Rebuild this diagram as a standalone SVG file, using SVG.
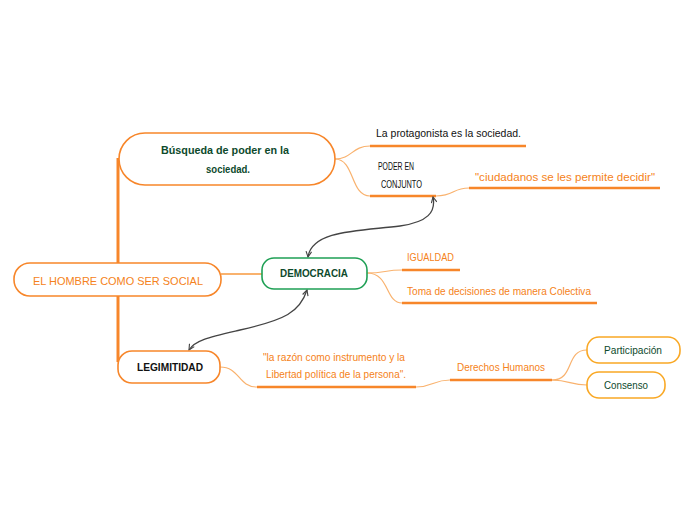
<svg xmlns="http://www.w3.org/2000/svg" width="696" height="520" viewBox="0 0 696 520">
<defs>
<marker id="ah" viewBox="0 0 10 10" refX="9" refY="5" markerWidth="7" markerHeight="7" orient="auto-start-reverse" markerUnits="userSpaceOnUse">
<path d="M1,1 L9,5 L1,9" fill="none" stroke="#444" stroke-width="1.6"/>
</marker>
</defs>
<style>
.t{font-family:"Liberation Sans","DejaVu Sans",sans-serif;font-size:11px}
.og{fill:#f58220}
.dg{fill:#0d4a2c}
.bk{fill:#111}
.thin{fill:none;stroke:#f9b26e;stroke-width:1.2}
.ul{fill:none;stroke:#f7862a;stroke-width:2.5}
.nodeO{fill:#fff;stroke:#f7862a;stroke-width:1.6}
.nodeA{fill:#fff;stroke:#f9a825;stroke-width:1.6}
.nodeG{fill:#fff;stroke:#1fa055;stroke-width:1.6}
.arr{fill:none;stroke:#444;stroke-width:1.3;marker-start:url(#ah);marker-end:url(#ah)}
</style>
<rect width="696" height="520" fill="#fff"/>
<g id="connectors">
<path d="M118,158 L118,362" fill="none" stroke="#f7862a" stroke-width="3"/>
<path d="M221,274 L262,274" fill="none" stroke="#f9b26e" stroke-width="2"/>
<path class="thin" d="M335,159 C352,159 352,146 370,146"/>
<path class="thin" d="M335,159 C355,159 350,196 370,196"/>
<path class="thin" d="M436,196 C455,196 452,188 469,188"/>
<path class="thin" d="M367,273 C385,273 385,270 402,270"/>
<path class="thin" d="M367,273 C390,273 385,303 402,303"/>
<path class="thin" d="M220,367 C240,367 238,387 257,387"/>
<path class="thin" d="M416,387 C433,387 433,380 450,380"/>
<path class="thin" d="M552,380 C575,380 565,350 587,350"/>
<path class="thin" d="M552,380 C570,380 570,385 587,385"/>
<path class="ul" d="M370,146 L526,146"/>
<path class="ul" d="M370,196 L436,196"/>
<path class="ul" d="M469,188 L660,188"/>
<path class="ul" d="M402,270 L460,270"/>
<path class="ul" d="M402,303 L597,303"/>
<path class="ul" d="M257,387 L416,387"/>
<path class="ul" d="M450,380 L552,380"/>
<path class="arr" d="M433,197 C436,212 428,222 400,226 C360,231 312,230 308,257"/>
<path class="arr" d="M307,290 C300,312 285,320 240,330 C210,337 195,340 189,350"/>
</g>
<g id="root">
<rect class="nodeO" x="14" y="263" width="207" height="33" rx="16"/>
<text class="t og" x="118" y="285" text-anchor="middle" font-size="13" textLength="170" lengthAdjust="spacingAndGlyphs">EL HOMBRE COMO SER SOCIAL</text>
</g>
<g id="busqueda">
<rect class="nodeO" x="119" y="133" width="216" height="52" rx="26"/>
<text class="t dg" x="225" y="154" text-anchor="middle" textLength="128" lengthAdjust="spacingAndGlyphs" font-weight="bold">Búsqueda de poder en la</text>
<text class="t dg" x="228" y="173" text-anchor="middle" textLength="44" lengthAdjust="spacingAndGlyphs" font-weight="bold">sociedad.</text>
</g>
<g id="protagonista">
<text class="t bk" x="376" y="137" textLength="145" lengthAdjust="spacingAndGlyphs">La protagonista es la sociedad.</text>
</g>
<g id="poder">
<text class="t bk" x="378" y="170" textLength="36" lengthAdjust="spacingAndGlyphs">PODER EN</text>
<text class="t bk" x="381" y="188" textLength="41" lengthAdjust="spacingAndGlyphs">CONJUNTO</text>
</g>
<g id="ciudadanos">
<text class="t og" x="475" y="181" textLength="180" lengthAdjust="spacingAndGlyphs">"ciudadanos se les permite decidir"</text>
</g>
<g id="democracia">
<rect class="nodeG" x="262" y="258" width="105" height="31" rx="12"/>
<text class="t dg" x="314" y="277" text-anchor="middle" textLength="68" lengthAdjust="spacingAndGlyphs" font-weight="bold">DEMOCRACIA</text>
</g>
<g id="igualdad">
<text class="t og" x="407" y="261" textLength="47" lengthAdjust="spacingAndGlyphs">IGUALDAD</text>
</g>
<g id="toma">
<text class="t og" x="407" y="295" textLength="184" lengthAdjust="spacingAndGlyphs">Toma de decisiones de manera Colectiva</text>
</g>
<g id="legitimidad">
<rect class="nodeO" x="118" y="351" width="102" height="32" rx="14"/>
<text class="t bk" x="170" y="371" text-anchor="middle" textLength="66" lengthAdjust="spacingAndGlyphs" font-weight="bold">LEGIMITIDAD</text>
</g>
<g id="razon">
<text class="t og" x="263" y="361" textLength="142" lengthAdjust="spacingAndGlyphs">"la razón como instrumento y la</text>
<text class="t og" x="266" y="378" textLength="140" lengthAdjust="spacingAndGlyphs">Libertad política de la persona".</text>
</g>
<g id="derechos">
<text class="t og" x="457" y="371" textLength="88" lengthAdjust="spacingAndGlyphs">Derechos Humanos</text>
</g>
<g id="participacion">
<rect class="nodeA" x="587" y="337" width="93" height="26" rx="12"/>
<text class="t dg" x="604" y="354" textLength="58" lengthAdjust="spacingAndGlyphs">Participación</text>
</g>
<g id="consenso">
<rect class="nodeA" x="587" y="372" width="78" height="26" rx="12"/>
<text class="t dg" x="604" y="389" textLength="44" lengthAdjust="spacingAndGlyphs">Consenso</text>
</g>
</svg>
